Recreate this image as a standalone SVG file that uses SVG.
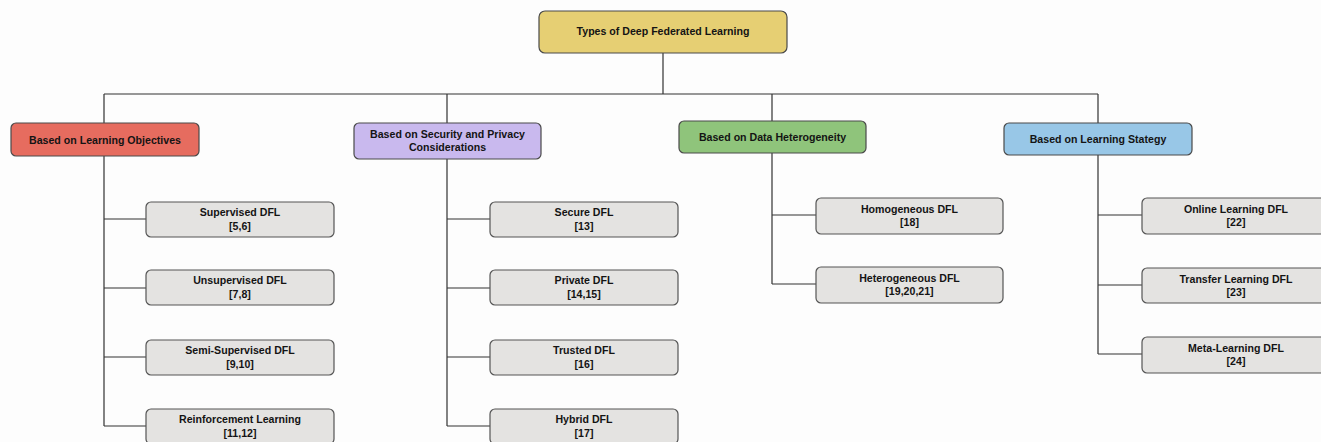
<svg xmlns="http://www.w3.org/2000/svg" width="1321" height="442" viewBox="0 0 1321 442">
<style>
.box{stroke:#4a4a4a;stroke-width:1.2}
.leaf{fill:#e4e3e1;stroke:#555;stroke-width:1.2}
.t{font-family:"Liberation Sans",Arial,sans-serif;font-weight:bold;font-size:10.6px;fill:#141414;text-anchor:middle;dominant-baseline:central}
.c{fill:none;stroke:#333;stroke-width:1.2}
</style>
<rect width="1321" height="442" fill="#fdfdfd"/>
<g id="connectors">
<path class="c" d="M663 53V94M104 94H1098M104 94V123M447 94V123M772 94V121M1098 94V123"/>
<path class="c" d="M104 156V426M104 219H146M104 288H146M104 357H146M104 426H146"/>
<path class="c" d="M447 159V426M447 219H490M447 288H490M447 357H490M447 426H490"/>
<path class="c" d="M772 153V284M772 215H816M772 284H816"/>
<path class="c" d="M1098 155V354M1098 215H1142M1098 285H1142M1098 354H1142"/>
</g>
<g id="root"><rect class="box" x="539" y="11" width="248" height="42" rx="6" fill="#e6cf73"/><text class="t" x="663" y="31">Types of Deep Federated Learning</text></g>
<g id="objectives"><rect class="box" x="11" y="123" width="188" height="33" rx="5" fill="#e66c5f"/><text class="t" x="105" y="139.5">Based on Learning Objectives</text></g>
<g id="security"><rect class="box" x="354" y="123" width="187" height="36" rx="5" fill="#c9b9ee"/><text class="t" x="447.5" y="134">Based on Security and Privacy</text><text class="t" x="447.5" y="147">Considerations</text></g>
<g id="heterogeneity"><rect class="box" x="679" y="121" width="187" height="32" rx="5" fill="#8fc47b"/><text class="t" x="772.5" y="137">Based on Data Heterogeneity</text></g>
<g id="strategy"><rect class="box" x="1004" y="123" width="188" height="32" rx="5" fill="#98c7e7"/><text class="t" x="1098" y="139">Based on Learning Stategy</text></g>
<g id="supervised"><rect class="leaf" x="146" y="202" width="188" height="35" rx="5"/><text class="t" x="240" y="212">Supervised DFL</text><text class="t" x="240" y="226">[5,6]</text></g>
<g id="unsupervised"><rect class="leaf" x="146" y="270" width="188" height="35" rx="5"/><text class="t" x="240" y="280">Unsupervised DFL</text><text class="t" x="240" y="294">[7,8]</text></g>
<g id="semisupervised"><rect class="leaf" x="146" y="340" width="188" height="35" rx="5"/><text class="t" x="240" y="350">Semi-Supervised DFL</text><text class="t" x="240" y="364">[9,10]</text></g>
<g id="reinforcement"><rect class="leaf" x="146" y="409" width="188" height="35" rx="5"/><text class="t" x="240" y="419">Reinforcement Learning</text><text class="t" x="240" y="433">[11,12]</text></g>
<g id="secure"><rect class="leaf" x="490" y="202" width="188" height="35" rx="5"/><text class="t" x="584" y="212">Secure DFL</text><text class="t" x="584" y="226">[13]</text></g>
<g id="private"><rect class="leaf" x="490" y="270" width="188" height="35" rx="5"/><text class="t" x="584" y="280">Private DFL</text><text class="t" x="584" y="294">[14,15]</text></g>
<g id="trusted"><rect class="leaf" x="490" y="340" width="188" height="35" rx="5"/><text class="t" x="584" y="350">Trusted DFL</text><text class="t" x="584" y="364">[16]</text></g>
<g id="hybrid"><rect class="leaf" x="490" y="409" width="188" height="35" rx="5"/><text class="t" x="584" y="419">Hybrid DFL</text><text class="t" x="584" y="433">[17]</text></g>
<g id="homogeneous"><rect class="leaf" x="816" y="198" width="187" height="36" rx="5"/><text class="t" x="909.5" y="209">Homogeneous DFL</text><text class="t" x="909.5" y="222">[18]</text></g>
<g id="heterogeneous"><rect class="leaf" x="816" y="267" width="187" height="36" rx="5"/><text class="t" x="909.5" y="278">Heterogeneous DFL</text><text class="t" x="909.5" y="291">[19,20,21]</text></g>
<g id="online"><rect class="leaf" x="1142" y="198" width="188" height="36" rx="5"/><text class="t" x="1236" y="209">Online Learning DFL</text><text class="t" x="1236" y="222">[22]</text></g>
<g id="transfer"><rect class="leaf" x="1142" y="268" width="188" height="35" rx="5"/><text class="t" x="1236" y="279">Transfer Learning DFL</text><text class="t" x="1236" y="292">[23]</text></g>
<g id="meta"><rect class="leaf" x="1142" y="337" width="188" height="36" rx="5"/><text class="t" x="1236" y="348">Meta-Learning DFL</text><text class="t" x="1236" y="361">[24]</text></g>
</svg>
